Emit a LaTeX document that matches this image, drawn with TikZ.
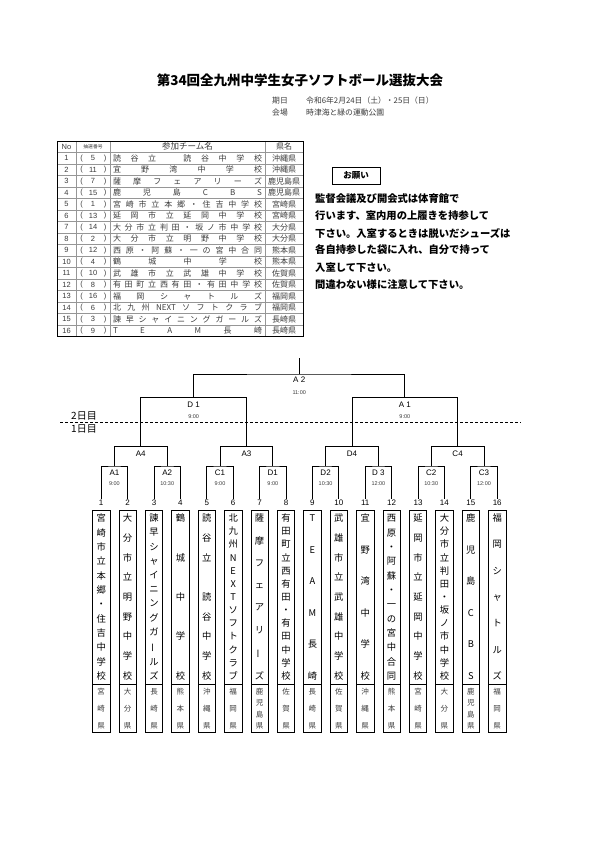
\documentclass[tikz,border=0pt]{standalone}
\usepackage{fontspec}
\setmainfont{Noto Sans CJK JP}
\newfontfamily\latin{Liberation Sans}
\usepackage{graphicx}
\usetikzlibrary{positioning,calc}
\definecolor{linegray}{RGB}{150,150,150}
\definecolor{textgray}{RGB}{60,60,60}

% spread characters over a width / height
\def\dlendmark{\dlend}
\def\hdlfirst#1{\def\dltmp{#1}\ifx\dltmp\dlendmark\else#1\expandafter\hdlnext\fi}
\def\hdlnext#1{\def\dltmp{#1}\ifx\dltmp\dlendmark\else\hfill#1\expandafter\hdlnext\fi}
\newcommand\spreadh[2]{\makebox[#1][s]{\expandafter\hdlfirst#2\dlend}}
\newcommand\vcell[1]{\hbox to 14pt{\hss\rule[-.12em]{0pt}{1em}#1\hss}}
\def\vdlfirst#1{\def\dltmp{#1}\ifx\dltmp\dlendmark\else\vcell{#1}\expandafter\vdlnext\fi}
\def\vdlnext#1{\def\dltmp{#1}\ifx\dltmp\dlendmark\else\vfill\vcell{#1}\expandafter\vdlnext\fi}
\newcommand\spreadv[2]{\vbox to #1{\offinterlineskip\expandafter\vdlfirst#2\dlend\kern0pt}}
\newcommand\vbarcho{\rotatebox[origin=c]{90}{ー}}

\begin{document}
\begin{tikzpicture}[x=1pt,y=-1pt,
    teambox/.style={draw, line width=0.7pt, minimum width=17.5pt, minimum height=174pt, inner sep=0pt, font=\fontsize{9.3}{9.3}\selectfont},
    prefbox/.style={draw, line width=0.7pt, minimum width=17.5pt, minimum height=48pt, inner sep=0pt, font=\fontsize{7.5}{7.5}\selectfont, text=textgray},
    numlbl/.style={inner sep=1pt, font=\latin\fontsize{8}{8}\selectfont},
    mlbl/.style={inner sep=0pt, font=\latin\fontsize{8}{8}\selectfont},
    tlbl/.style={inner sep=0pt, font=\latin\fontsize{5.5}{5.5}\selectfont, text=textgray},
    bline/.style={line width=0.7pt},
    tline/.style={line width=0.4pt, draw=linegray},
    tcell/.style={inner sep=0pt, font=\fontsize{8}{8}\selectfont, text=textgray},
    note/.style={anchor=west, inner sep=0pt, font=\fontsize{10.3}{10.3}\selectfont\bfseries}
]
    \fill[white] (0,0) rectangle (595,842);
    \useasboundingbox (0,0) rectangle (595,842);

    % title
    \node[font=\fontsize{13.5}{13.5}\selectfont\bfseries] (title) at (300,80) {第34回全九州中学生女子ソフトボール選抜大会};
    \node[anchor=west, inner sep=0pt, text=textgray, font=\fontsize{7.8}{7.8}\selectfont] (dayk) at (272,101) {期日};
    \node[anchor=west, inner sep=0pt, text=textgray, font=\fontsize{7.8}{7.8}\selectfont] (day) at (306,101) {令和6年2月24日（土）・25日（日）};
    \node[anchor=west, inner sep=0pt, text=textgray, font=\fontsize{7.8}{7.8}\selectfont] (placek) at (272,113) {会場};
    \node[anchor=west, inner sep=0pt, text=textgray, font=\fontsize{7.8}{7.8}\selectfont] (place) at (306,113) {時津海と緑の運動公園};

    % entry table
    \foreach \r in {1,...,16}
        \draw[tline] (57,141+11.5*\r) -- (303,141+11.5*\r);
    \foreach \xx in {76,110,265}
        \draw[tline] (\xx,141) -- (\xx,336.5);
    \draw[line width=0.8pt] (57,141) rectangle (303,336.5);
    \node[tcell, font=\latin\fontsize{7.5}{7.5}\selectfont] (hno) at (66.5,146.75) {No};
    \node[tcell, font=\fontsize{4.8}{4.8}\selectfont] (hdr) at (93,146.75) {抽選番号};
    \node[tcell, font=\fontsize{8.5}{8.5}\selectfont] (hnm) at (187.5,146.75) {参加チーム名};
    \node[tcell] (hpf) at (284,146.75) {県名};
    \foreach \no/\dr/\nm/\pf [count=\r] in {
        1/5/読谷立　読谷中学校/沖縄県, 2/11/宜野湾中学校/沖縄県,
        3/7/薩摩フェアリーズ/鹿児島県, 4/15/鹿児島CBS/鹿児島県,
        5/1/宮崎市立本郷・住吉中学校/宮崎県, 6/13/延岡市立延岡中学校/宮崎県,
        7/14/大分市立判田・坂ノ市中学校/大分県, 8/2/大分市立明野中学校/大分県,
        9/12/西原・阿蘇・一の宮中合同/熊本県, 10/4/鶴城中学校/熊本県,
        11/10/武雄市立武雄中学校/佐賀県, 12/8/有田町立西有田・有田中学校/佐賀県,
        13/16/福岡シャトルズ/福岡県, 14/6/北九州{NEXT}ソフトクラブ/福岡県,
        15/3/諫早シャイニングガールズ/長崎県, 16/9/TEAM長崎/長崎県} {
        \pgfmathsetmacro\yy{146.75+11.5*\r}
        \node[tcell, font=\latin\fontsize{7.5}{7.5}\selectfont] (no\r) at (66.5,\yy) {\no};
        \node[tcell, font=\latin\fontsize{7.5}{7.5}\selectfont] (dl\r) at (81.5,\yy) {(};
        \node[tcell, font=\latin\fontsize{7.5}{7.5}\selectfont] (dr\r) at (93,\yy) {\dr};
        \node[tcell, font=\latin\fontsize{7.5}{7.5}\selectfont] (dd\r) at (105,\yy) {)};
        \node[tcell] (nm\r) at (187.5,\yy) {\spreadh{149pt}{\nm}};
        \node[tcell] (pf\r) at (284,\yy) {\pf};
    }

    % notice
    \node[draw, line width=0.8pt, minimum width=48pt, minimum height=17pt, font=\fontsize{8.5}{8.5}\selectfont\bfseries] (ask) at (356,175.5) {お願い};
    \node[note] (n1) at (315,198.3) {監督会議及び開会式は体育館で};
    \node[note] (n2) at (315,216) {行います、室内用の上履きを持参して};
    \node[note] (n3) at (315,233) {下さい。入室するときは脱いだシューズは};
    \node[note] (n4) at (315,250) {各自持参した袋に入れ、自分で持って};
    \node[note] (n5) at (315,267.5) {入室して下さい。};
    \node[note] (n6) at (315,285) {間違わない様に注意して下さい。};

    % team boxes
    \foreach \i/\nm/\pf in {1/宮崎市立本郷・住吉中学校/宮崎県, 2/大分市立明野中学校/大分県,
        3/諫早シャイニングガ\vbarcho ルズ/長崎県, 4/鶴城中学校/熊本県,
        5/読谷立　読谷中学校/沖縄県, 6/北九州NEXTソフトクラブ/福岡県,
        7/薩摩フェアリ\vbarcho ズ/鹿児島県, 8/有田町立西有田・有田中学校/佐賀県,
        9/TEAM長崎/長崎県, 10/武雄市立武雄中学校/佐賀県,
        11/宜野湾中学校/沖縄県, 12/西原・阿蘇・一の宮中合同/熊本県,
        13/延岡市立延岡中学校/宮崎県, 14/大分市立判田・坂ノ市中学校/大分県,
        15/鹿児島CBS/鹿児島県, 16/福岡シャトルズ/福岡県} {
        \node[teambox] (n\i) at ({101.2+26.4*(\i-1)},597) {\spreadv{167pt}{\nm}};
        \node[prefbox, below=0pt of n\i] (p\i) {\spreadv{41pt}{\pf}};
        \node[numlbl, above=2.5pt of n\i] (k\i) {\i};
    }

    % bracket points
    \foreach \j in {1,...,8}
        \coordinate (ra\j) at ({114.4+52.8*(\j-1)},466);
    \foreach \j in {1,...,4}
        \coordinate (rb\j) at ({140.8+105.6*(\j-1)},446.4);
    \coordinate (rc1) at (193.6,397.6);
    \coordinate (rc2) at (404.8,397.6);
    \coordinate (rd) at (299.2,374);
    \coordinate (top) at (299.2,358);

    % bracket lines
    \foreach \j in {1,...,8} {
        \pgfmathtruncatemacro\a{2*\j-1}
        \pgfmathtruncatemacro\b{2*\j}
        \draw[bline] (k\a.north) |- (ra\j) -| (k\b.north);
    }
    \foreach \j in {1,...,4} {
        \pgfmathtruncatemacro\a{2*\j-1}
        \pgfmathtruncatemacro\b{2*\j}
        \draw[bline] (ra\a) |- (rb\j) -| (ra\b);
    }
    \draw[bline] (rb1) |- (rc1) -| (rb2);
    \draw[bline] (rb3) |- (rc2) -| (rb4);
    \draw[bline] (rc1) |- (rd) -| (rc2);
    \draw[bline] (rd) -- (top);

    % match labels
    \foreach \j/\lbl/\tm in {1/A1/9:00, 2/A2/10:30, 3/C1/9:00, 4/D1/9:00,
        5/D2/10:30, 6/D 3/12:00, 7/C2/10:30, 8/C3/12:00} {
        \node[mlbl] (la\j) at ($(ra\j)+(0,6.7)$) {\lbl};
        \node[tlbl] (ta\j) at ($(ra\j)+(0,17.3)$) {\tm};
    }
    \foreach \j/\lbl in {1/A4, 2/A3, 3/D4, 4/C4}
        \node[mlbl] (lb\j) at ($(rb\j)+(0,7)$) {\lbl};
    \node[mlbl] (lc1) at ($(rc1)+(0,7)$) {D 1};
    \node[tlbl] (tc1) at ($(rc1)+(0,18.8)$) {9:00};
    \node[mlbl] (lc2) at ($(rc2)+(0,7)$) {A 1};
    \node[tlbl] (tc2) at ($(rc2)+(0,18.8)$) {9:00};
    \node[mlbl] (ld) at ($(rd)+(0,6)$) {A 2};
    \node[tlbl] (td) at ($(rd)+(0,19)$) {11:00};

    % day border
    \coordinate (dashl) at (60,422.7);
    \coordinate (dashr) at (521,422.7);
    \draw[line width=0.8pt, dash pattern=on 3pt off 2pt] (dashl) -- (dashr);
    \node[font=\fontsize{10}{10}\selectfont, inner sep=0pt] (day2) at (84,415.7) {2日目};
    \node[font=\fontsize{10}{10}\selectfont, inner sep=0pt] (day1) at (84,428.5) {1日目};
\end{tikzpicture}
\end{document}
